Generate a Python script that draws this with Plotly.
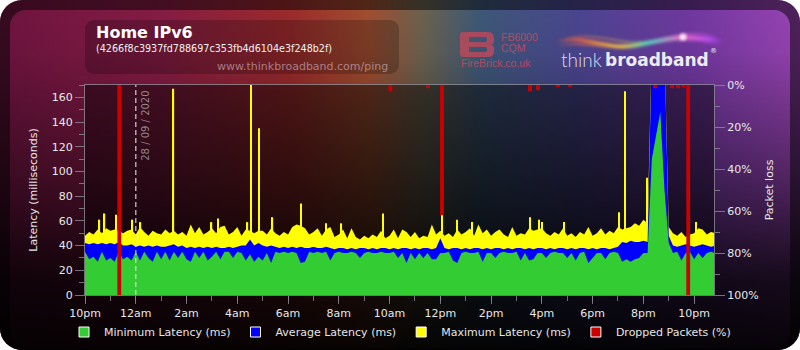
import base64
import pandas as pd
import plotly.graph_objects as go

# ---------------- data ----------------
sample_times = pd.date_range("2020-09-27 22:00", periods=150, freq="10min")

# maximum latency band (10-minute samples)
max_latency = [
    48, 51, 49, 53, 50, 54, 52, 53, 52, 50,
    52, 53, 49, 55, 51, 48, 52, 50, 49, 53,
    50, 52, 49, 51, 48, 57, 50, 55, 49, 51,
    54, 50, 55, 56, 49, 51, 55, 48, 53, 52,
    50, 52, 52, 49, 54, 50, 48, 51, 49, 55,
    57, 56, 54, 49, 51, 54, 48, 53, 55, 47,
    49, 53, 46, 54, 47, 45, 48, 46, 49, 47,
    52, 46, 48, 53, 46, 53, 51, 47, 51, 46,
    48, 47, 57, 49, 52, 48, 50, 47, 53, 49,
    51, 54, 48, 57, 50, 53, 48, 51, 53, 49,
    47, 55, 48, 50, 49, 54, 52, 53, 54, 50,
    48, 51, 49, 54, 48, 50, 47, 51, 49, 55,
    48, 50, 54, 49, 52, 50, 55, 53, 54, 55,
    58, 56, 61, 58, 200, 200, 200, 200, 55, 50,
    48, 51, 47, 49, 50, 54, 53, 49, 51, 50,
]

# short maximum-latency spikes
spike_times = pd.to_datetime([
    "2020-09-27 22:34", "2020-09-27 22:46", "2020-09-27 23:14",
    "2020-09-27 23:21", "2020-09-27 23:52", "2020-09-28 00:11",
    "2020-09-28 01:29", "2020-09-28 02:59", "2020-09-28 03:15",
    "2020-09-28 04:24", "2020-09-28 04:33", "2020-09-28 04:52",
    "2020-09-28 05:23", "2020-09-28 06:31", "2020-09-28 07:30",
    "2020-09-28 08:06", "2020-09-28 09:45", "2020-09-28 12:04",
    "2020-09-28 12:40", "2020-09-28 13:15", "2020-09-28 15:32",
    "2020-09-28 15:53", "2020-09-28 16:00", "2020-09-28 16:53",
    "2020-09-28 19:03", "2020-09-28 19:17", "2020-09-28 20:09",
    "2020-09-28 22:04",
])
spike_values = [61, 66, 65, 200, 61, 59, 167, 59, 62, 59, 200, 135,
                63, 74, 58, 58, 66, 65, 61, 59, 63, 61, 59, 59, 67,
                165, 95, 59]

avg_latency = [
    42, 41, 42, 41, 42, 41, 42, 41, 43, 40,
    40, 41, 39, 40, 39, 40, 39, 40, 39, 39,
    40, 41, 39, 40, 38, 39, 38, 39, 38, 39,
    38, 39, 38, 38, 39, 38, 39, 40, 40, 45,
    40, 42, 40, 39, 40, 39, 38, 39, 38, 39,
    38, 39, 38, 38, 39, 38, 38, 39, 38, 37,
    38, 38, 37, 38, 37, 38, 38, 37, 38, 37,
    38, 38, 37, 38, 37, 38, 38, 37, 38, 37,
    38, 38, 37, 38, 46, 38, 37, 38, 38, 37,
    38, 37, 38, 38, 37, 38, 37, 38, 38, 37,
    38, 37, 38, 38, 37, 38, 37, 38, 38, 37,
    38, 37, 38, 38, 37, 38, 37, 38, 38, 37,
    38, 37, 38, 38, 37, 38, 39, 43, 42, 44,
    43, 43, 44, 43, 200, 200, 200, 200, 48, 40,
    39, 40, 41, 40, 39, 40, 41, 40, 39, 40,
]

min_latency = [
    35, 29, 31, 27, 35, 28, 30, 27, 35, 29,
    31, 28, 35, 28, 35, 30, 27, 35, 29, 35,
    28, 35, 30, 35, 29, 27, 35, 30, 35, 28,
    31, 35, 29, 35, 35, 30, 35, 34, 28, 33,
    27, 31, 28, 34, 26, 35, 34, 35, 34, 35,
    34, 26, 27, 35, 34, 35, 34, 35, 28, 34,
    35, 34, 34, 35, 34, 30, 34, 35, 34, 34,
    35, 34, 34, 35, 30, 34, 26, 34, 29, 34,
    30, 34, 29, 29, 34, 34, 35, 28, 26, 34,
    35, 34, 34, 35, 27, 34, 34, 30, 34, 35,
    34, 34, 35, 28, 34, 28, 29, 34, 34, 30,
    34, 35, 34, 34, 30, 34, 28, 34, 35, 26,
    30, 34, 34, 29, 34, 35, 34, 27, 29, 27,
    29, 30, 34, 34, 110, 130, 148, 85, 42, 34,
    35, 28, 34, 35, 29, 34, 30, 34, 35, 34,
]

drop_times = pd.to_datetime([
    "2020-09-27 23:21", "2020-09-28 10:02", "2020-09-28 11:31",
    "2020-09-28 12:04", "2020-09-28 15:32", "2020-09-28 15:51",
    "2020-09-28 16:38", "2020-09-28 17:07", "2020-09-28 20:28",
    "2020-09-28 21:08", "2020-09-28 21:22", "2020-09-28 21:34",
    "2020-09-28 21:46",
])
drop_pct = [100, 3, 1.5, 62, 3, 2.5, 1, 1, 1.5, 1.5, 1.5, 1, 100]

tick_times = pd.date_range("2020-09-27 22:00", periods=13, freq="2h")
tick_labels = ["10pm", "12am", "2am", "4am", "6am", "8am", "10am",
               "12pm", "2pm", "4pm", "6pm", "8pm", "10pm"]
x_range = ["2020-09-27 22:00", "2020-09-28 22:47"]
date_marker = pd.Timestamp("2020-09-28 00:00")
date_label = "28 / 09 / 2020"

series_names = ["Minimum Latency (ms)", "Average Latency (ms)",
                "Maximum Latency (ms)", "Dropped Packets (%)"]

GREEN, BLUE, YELLOW, RED = "#33cc33", "#0000ff", "#ffff00", "#cc0000"

# ---------------- geometry ----------------
W, H = 800, 350
ML, MR, MT, MB = 85, 86, 85, 55
PW, PH = W - ML - MR, H - MT - MB


def pp(x, y):
    """pixel position -> paper coordinates"""
    return (x - ML) / PW, (H - MB - y) / PH


# ---------------- background (decorative svg) ----------------
svg = f"""<svg xmlns="http://www.w3.org/2000/svg" width="{W}" height="{H}" viewBox="0 0 {W} {H}">
<defs>
<linearGradient id="g" x1="0" y1="0" x2="800" y2="0" gradientUnits="userSpaceOnUse">
<stop offset="0" stop-color="#6e1440"/>
<stop offset="0.2" stop-color="#861c44"/>
<stop offset="0.36" stop-color="#9c2a2c"/>
<stop offset="0.46" stop-color="#a24e30"/>
<stop offset="0.53" stop-color="#6a6250"/>
<stop offset="0.6" stop-color="#3e5878"/>
<stop offset="0.72" stop-color="#4a4690"/>
<stop offset="0.86" stop-color="#7038a0"/>
<stop offset="1" stop-color="#9a44b4"/>
</linearGradient>
<linearGradient id="d" x1="0" y1="0" x2="0" y2="350" gradientUnits="userSpaceOnUse">
<stop offset="0" stop-color="#000" stop-opacity="0"/>
<stop offset="0.15" stop-color="#000" stop-opacity="0.05"/>
<stop offset="0.5" stop-color="#000" stop-opacity="0.45"/>
<stop offset="0.8" stop-color="#000" stop-opacity="0.85"/>
<stop offset="1" stop-color="#000" stop-opacity="0.95"/>
</linearGradient>
<linearGradient id="s" x1="555" y1="0" x2="725" y2="0" gradientUnits="userSpaceOnUse">
<stop offset="0" stop-color="#ff5a3c" stop-opacity="0"/>
<stop offset="0.15" stop-color="#ff6a3a"/>
<stop offset="0.4" stop-color="#f0d040"/>
<stop offset="0.55" stop-color="#50e0c0"/>
<stop offset="0.75" stop-color="#ff70d0"/>
<stop offset="0.9" stop-color="#d050ff"/>
<stop offset="1" stop-color="#a040ff" stop-opacity="0"/>
</linearGradient>
<filter id="b" x="-10%" y="-50%" width="120%" height="200%"><feGaussianBlur stdDeviation="1.4"/></filter>
</defs>
<rect width="800" height="350" rx="22" fill="url(#g)"/>
<rect width="800" height="350" rx="22" fill="#000" fill-opacity="0.5"/>
<rect x="10" y="10" width="780" height="338" rx="16" fill="url(#g)"/>
<rect width="800" height="350" rx="22" fill="url(#d)"/>
<rect x="85" y="20" width="314" height="54" rx="9" fill="#000" fill-opacity="0.22"/>
<path fill="#c0485a" fill-opacity="0.8" fill-rule="evenodd" d="M460,35 Q460,32 463,32 H488 Q494,32 494,38 V41 Q494,44 491,44.5 Q494,45 494,48 V52 Q494,57 488,57 H463 Q460,57 460,54 Z M469,37 H485 Q487,37 487,39 V40 Q487,42 485,42 H469 Z M469,47 H485 Q487,47 487,49 V50 Q487,52 485,52 H469 Z"/>
<g filter="url(#b)" fill="none" stroke="url(#s)">
<path d="M555,42 C585,34 605,50 635,45 S680,32 722,41" stroke-width="3" opacity="0.9"/>
<path d="M560,45 C590,40 612,52 640,46 S685,36 720,44" stroke-width="2" opacity="0.7"/>
<path d="M565,39 C595,30 620,47 650,41 S690,30 715,37" stroke-width="1.5" opacity="0.6"/>
</g>
<circle cx="683" cy="37" r="3.5" fill="#fff" opacity="0.85" filter="url(#b)"/>
</svg>"""
bg_uri = "data:image/svg+xml;base64," + base64.b64encode(svg.encode()).decode()

# ---------------- figure ----------------
fig = go.Figure()

# narrow spikes of the maximum latency (drawn under the areas)
fig.add_trace(go.Bar(
    x=spike_times, y=spike_values, width=3.5 * 60 * 1000,
    marker=dict(color=YELLOW, line=dict(width=0)), showlegend=False,
    hoverinfo="skip"))

for vals, col in ((max_latency, YELLOW), (avg_latency, BLUE), (min_latency, GREEN)):
    fig.add_trace(go.Scatter(
        x=sample_times, y=vals, mode="lines", fill="tozeroy",
        line=dict(width=0, color=col), fillcolor=col,
        showlegend=False, hoverinfo="skip"))

fig.add_trace(go.Bar(
    x=drop_times, y=drop_pct, yaxis="y2", width=9 * 60 * 1000,
    marker=dict(color=RED, line=dict(width=0)), showlegend=False,
    hoverinfo="skip"))

# legend entries (square swatches)
for name, col in zip(series_names, (GREEN, BLUE, YELLOW, RED)):
    fig.add_trace(go.Scatter(
        x=[None], y=[None], mode="markers", name=name,
        marker=dict(symbol="square", size=10, color=col,
                    line=dict(color="white", width=1))))

axis_grey = "rgba(140,140,150,0.8)"
tick_font = dict(size=11, color="#e8e8e8")

fig.update_layout(
    width=W, height=H,
    margin=dict(l=ML, r=MR, t=MT, b=MB, autoexpand=False),
    paper_bgcolor="white",
    plot_bgcolor="rgba(0,0,0,0)",
    font=dict(family="DejaVu Sans", color="#e8e8e8", size=11),
    hovermode=False,
    barmode="overlay",
    legend=dict(orientation="h", x=pp(64, 0)[0], xanchor="left",
                y=pp(0, 332)[1], yanchor="middle",
                font=dict(size=11, color="#e6e6e6"),
                bgcolor="rgba(0,0,0,0)", traceorder="normal"),
    xaxis=dict(type="date", range=x_range, tickmode="array",
               tickvals=tick_times, ticktext=tick_labels,
               ticks="outside", ticklen=8, tickcolor=axis_grey,
               showline=True, linecolor=axis_grey, mirror=True,
               showgrid=False, zeroline=False, tickfont=tick_font,
               minor=dict(dtick=3600000, ticks="outside", ticklen=5,
                          tickcolor=axis_grey, showgrid=False)),
    yaxis=dict(range=[0, 170], tick0=0, dtick=20, ticks="outside",
               ticklen=9, tickcolor=axis_grey, showline=True,
               linecolor=axis_grey, showgrid=False, zeroline=False,
               tickfont=tick_font,
               title=dict(text="Latency (milliseconds)",
                          font=dict(size=11, color="#e8e8e8"), standoff=11),
               minor=dict(dtick=10, ticks="outside", ticklen=5,
                          tickcolor=axis_grey, showgrid=False)),
    yaxis2=dict(overlaying="y", side="right", range=[100, 0], tick0=0,
                dtick=20, ticksuffix="%", ticks="outside", ticklen=10,
                tickcolor=axis_grey, showline=True, linecolor=axis_grey,
                showgrid=False, zeroline=False, tickfont=tick_font,
                title=dict(text="Packet loss",
                           font=dict(size=11, color="#e8e8e8"), standoff=7),
                minor=dict(dtick=10, ticks="outside", ticklen=5,
                           tickcolor=axis_grey, showgrid=False)),
)

fig.add_layout_image(dict(
    source=bg_uri, xref="paper", yref="paper",
    x=-ML / PW, y=1 + MT / PH, sizex=W / PW, sizey=H / PH,
    xanchor="left", yanchor="top", sizing="stretch", layer="below"))

fig.add_shape(type="rect", xref="x domain", yref="y domain",
              x0=0, x1=1, y0=0, y1=1, line=dict(width=0),
              fillcolor="rgba(0,0,0,0.42)", layer="below")
fig.add_shape(type="line", xref="x", yref="y domain",
              x0=date_marker, x1=date_marker, y0=0, y1=1,
              line=dict(color="rgba(220,220,220,0.75)", width=1.5,
                        dash="5px,3px"), layer="above")

fig.add_annotation(x=date_marker, y=1, xref="x", yref="y domain",
                   text=date_label, textangle=-90, showarrow=False,
                   xanchor="center", yanchor="top", xshift=9, yshift=-4,
                   font=dict(size=10, color="rgba(190,190,190,0.7)"))


def label(text, x, y, anchor="left", **font):
    px_, py_ = pp(x, y)
    fig.add_annotation(x=px_, y=py_, xref="paper", yref="paper", text=text,
                       showarrow=False, xanchor=anchor, yanchor="middle",
                       font=font)


label("<b>Home IPv6</b>", 94, 32, size=16, color="#ffffff")
label("(4266f8c3937fd788697c353fb4d6104e3f248b2f)", 94, 49,
      size=9.6, color="#f2f2f2")
label("www.thinkbroadband.com/ping", 390, 66, anchor="right",
      size=11, color="rgba(205,180,190,0.65)")
label("FB6000", 499, 37, family="Liberation Sans", size=10.5,
      color="rgba(200,75,95,0.85)")
label("CQM", 499, 48, family="Liberation Sans", size=10.5,
      color="rgba(200,75,95,0.85)")
label("FireBrick.co.uk", 459, 63, family="Liberation Sans", size=10.5,
      color="rgba(200,75,95,0.85)")
label("think", 604, 59, anchor="right", family="Lato", size=19,
      weight=300, color="#dcdce6")
label("<b>broadband</b>", 603, 60, family="DejaVu Sans", size=17,
      color="#ececf2")
label("®", 708, 51, family="DejaVu Sans", size=7, color="#ececf2")

fig.write_html("out.html")
